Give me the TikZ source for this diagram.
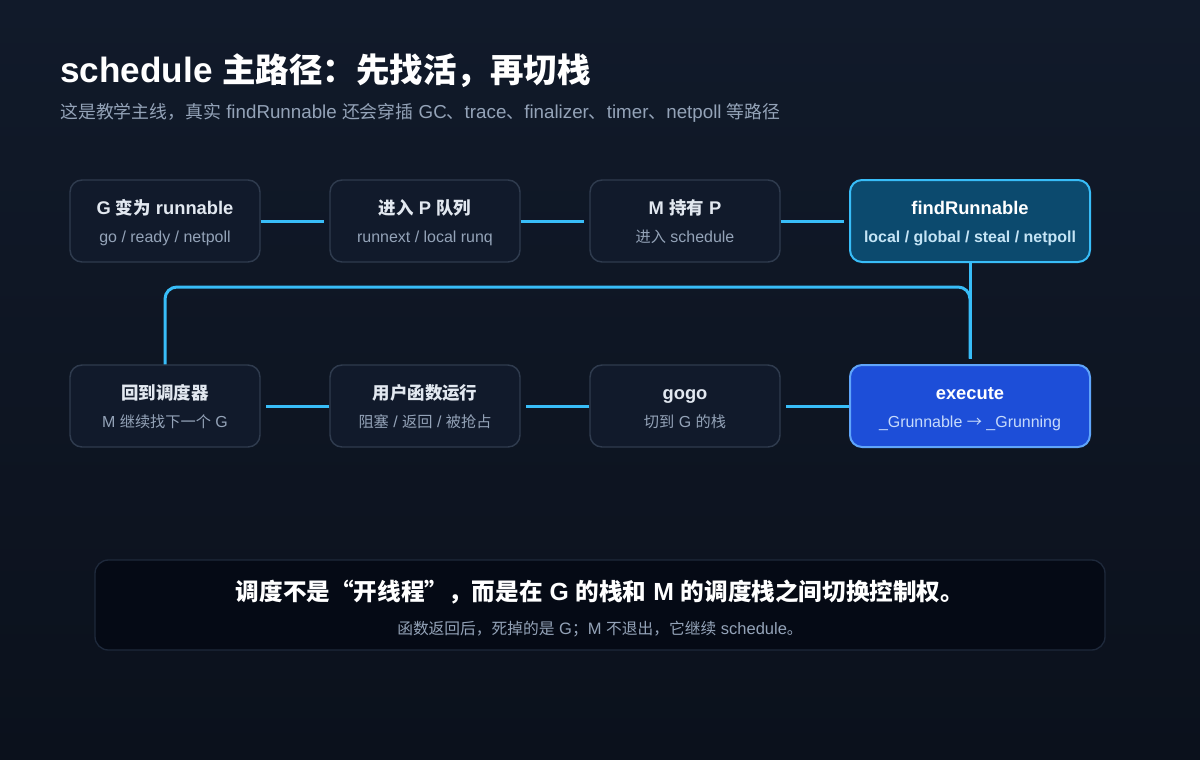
\documentclass[tikz,border=0pt]{standalone}
\usepackage{fontspec}
\setmainfont{Liberation Sans}[Scale=1.05]
\newfontfamily\cjkfont{Noto Sans CJK SC}
\usetikzlibrary{calc}

% Chinese characters switch to the CJK family, Latin text stays in the main family
\XeTeXinterchartokenstate=1
\newXeTeXintercharclass\cjkclass
\newcount\cjkcode
\def\setcjkrange#1#2{\cjkcode=#1
  \loop\XeTeXcharclass\cjkcode=\cjkclass
  \ifnum\cjkcode<#2 \advance\cjkcode by 1 \repeat}
\setcjkrange{"3000}{"303F}
\setcjkrange{"4E00}{"9FFF}
\setcjkrange{"FF00}{"FFEF}
\setcjkrange{"201C}{"201D}
\setcjkrange{"2192}{"2192}
\XeTeXinterchartoks 0 \cjkclass = {\cjkfont}
\XeTeXinterchartoks 4095 \cjkclass = {\cjkfont}
\XeTeXinterchartoks \cjkclass 0 = {\rmfamily}
\XeTeXinterchartoks \cjkclass 4095 = {\rmfamily}

\definecolor{bgtop}{HTML}{111A2A}
\definecolor{bgbot}{HTML}{0B111C}
\definecolor{boxfill}{HTML}{111A2B}
\definecolor{boxline}{HTML}{2F3B4E}
\definecolor{flow}{HTML}{38BDF8}
\definecolor{findfill}{HTML}{0C4A6E}
\definecolor{findtext}{HTML}{C4E4F5}
\definecolor{exefill}{HTML}{1D4ED8}
\definecolor{exeline}{HTML}{60A5FA}
\definecolor{exetext}{HTML}{C7DBFB}
\definecolor{subgray}{HTML}{94A3B8}
\definecolor{headgray}{HTML}{E2E8F0}
\definecolor{notefill}{HTML}{050A15}
\definecolor{noteline}{HTML}{1E293B}

% box with a bold title line and a small sub line
\newcommand{\flowbox}[7]{%
  \node[#5, minimum width=#4] (#1) at (#2,#3) {};
  \node[boxtitle] (#1-t) at ([yshift=5.25pt]#1.center) {#6};
  \node[boxsub] (#1-s) at ([yshift=-15.75pt]#1.center) {#7};
}

\begin{document}
\begin{tikzpicture}[x=0.75pt, y=-0.75pt,
  stepbox/.style={draw=boxline, line width=1.1pt, fill=boxfill, rounded corners=9pt,
    minimum height=61.5pt, inner sep=0pt},
  findbox/.style={stepbox, draw=flow, fill=findfill, line width=1.5pt},
  exebox/.style={stepbox, draw=exeline, fill=exefill, line width=1.5pt},
  boxtitle/.style={anchor=base, inner sep=0pt, text=headgray, font=\fontsize{13.1}{15}\selectfont\bfseries},
  boxsub/.style={anchor=base, inner sep=0pt, text=subgray, font=\fontsize{11.4}{13}\selectfont},
  flowline/.style={draw=flow, line width=2.25pt, shorten >=4pt}]

% --- background and page frame ---
\fill[top color=bgtop, bottom color=bgbot] (0,0) rectangle (1200,760);
\useasboundingbox (0,0) rectangle (1200,760);

% --- heading ---
\node[anchor=base west, inner sep=0pt, text=white, font=\fontsize{25.1}{29}\selectfont\bfseries]
  (title) at (60,82) {schedule 主路径：先找活，再切栈};
\node[anchor=base west, inner sep=0pt, text=subgray, font=\fontsize{13.4}{15}\selectfont]
  (subtitle) at (60,118) {这是教学主线，真实 findRunnable 还会穿插 GC、trace、finalizer、timer、netpoll 等路径};

% --- upper row ---
\flowbox{b1}{165}{221}{142.5pt}{stepbox}{G 变为 runnable}{go / ready / netpoll}
\flowbox{b2}{425}{221}{142.5pt}{stepbox}{进入 P 队列}{runnext / local runq}
\flowbox{b3}{685}{221}{142.5pt}{stepbox}{M 持有 P}{进入 schedule}
\flowbox{b4}{970}{221}{180pt}{findbox}{\color{white}findRunnable}{\color{findtext}\bfseries local / global / steal / netpoll}

% --- lower row ---
\flowbox{b5}{165}{406}{142.5pt}{stepbox}{回到调度器}{M 继续找下一个 G}
\flowbox{b6}{425}{406}{142.5pt}{stepbox}{用户函数运行}{阻塞 / 返回 / 被抢占}
\flowbox{b7}{685}{406}{142.5pt}{stepbox}{gogo}{切到 G 的栈}
\flowbox{b8}{970}{406}{180pt}{exebox}{\color{white}execute}{\color{exetext}\_Grunnable → \_Grunning}

% --- connectors ---
\draw[flowline] (b1.east) -- (b2.west);
\draw[flowline] (b2.east) -- (b3.west);
\draw[flowline] (b3.east) -- (b4.west);
\draw[flowline] (b4.south) -- (b8.north);
\draw[flowline] (b8.west) -- (b7.east);
\draw[flowline] (b7.west) -- (b6.east);
\draw[flowline] (b6.west) -- (b5.east);
\coordinate (loopy) at (0,287);
\draw[flowline, rounded corners=9pt] (b5.north) -- (b5.north |- loopy) -- (b8.north |- loopy) -- (b8.north);

% --- note at the bottom ---
\node[draw=noteline, line width=1pt, fill=notefill, rounded corners=10pt,
  minimum width=757.5pt, minimum height=67.5pt, inner sep=0pt] (note) at (600,605) {};
\node[anchor=base, inner sep=0pt, text=white, font=\fontsize{17.7}{21}\selectfont\bfseries]
  (note-t) at (600,600) {调度不是“开线程”，而是在 G 的栈和 M 的调度栈之间切换控制权。};
\node[anchor=base, inner sep=0pt, text=subgray, font=\fontsize{11.8}{14}\selectfont]
  (note-s) at (600,634) {函数返回后，死掉的是 G；M 不退出，它继续 schedule。};
\end{tikzpicture}
\end{document}
